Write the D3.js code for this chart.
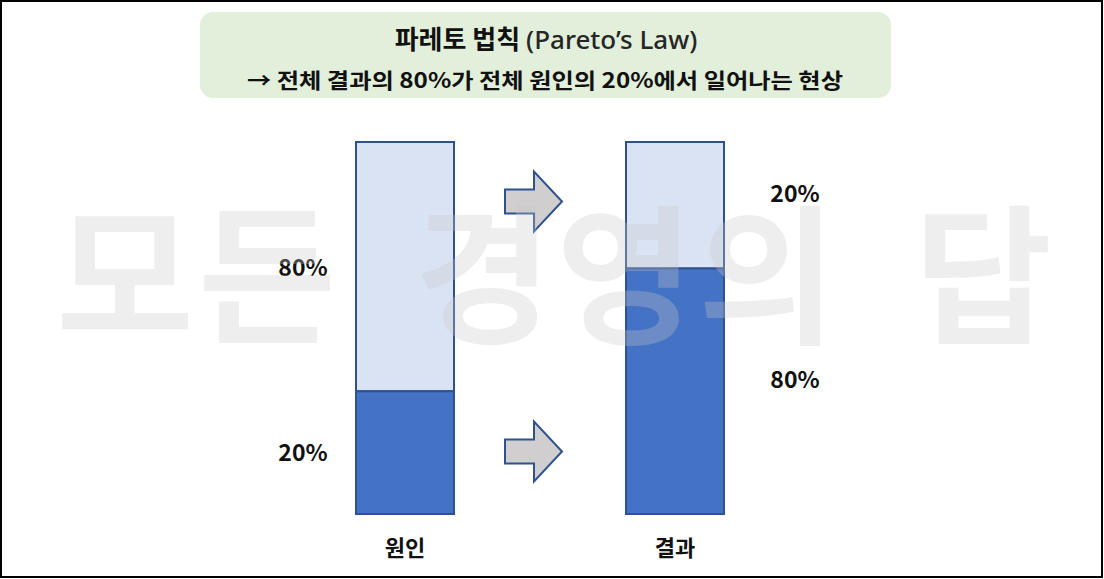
<!DOCTYPE html>
<html><head><meta charset="utf-8">
<script src="https://cdn.jsdelivr.net/npm/d3@7/dist/d3.min.js"></script>
<style>
html,body{margin:0;padding:0;background:#fff;}
svg{display:block;}
text{font-family:"Noto Sans CJK KR","Noto Sans",sans-serif;}
</style></head>
<body>
<script>
// ---- data ----
const categories = ["원인", "결과"];
const lowerShare = [33, 66];          // dark (bottom) segment height, % of bar as drawn
const upperShare = [67, 34];          // light (top) segment height
const upperLabels = ["80%", "20%"];   // labels printed for the top segments
const lowerLabels = ["20%", "80%"];   // labels printed for the bottom segments
const titleMain = "파레토 법칙";
const titleLatin = "(Pareto’s Law)";
const subtitle = "→ 전체 결과의 80%가 전체 원인의 20%에서 일어나는 현상";
const watermark = "모든 경영의 답";

const W = 1104, H = 579;
const svg = d3.select("body").append("svg").attr("width", W).attr("height", H);

svg.append("rect").attr("x",0).attr("y",0).attr("width",W).attr("height",H).attr("fill","#fff");

// title box
svg.append("rect").attr("x",200).attr("y",12).attr("width",691).attr("height",86)
  .attr("rx",13).attr("fill","#e2efda");
const t1 = svg.append("text").attr("x",546).attr("y",49).attr("text-anchor","middle")
  .attr("font-size",26).attr("fill","#111");
t1.append("tspan").attr("font-weight",700).text(titleMain + " ");
t1.append("tspan").attr("font-weight",500).attr("fill","#262626")
  .attr("font-family","'Noto Sans','Noto Sans CJK KR',sans-serif").text(titleLatin);
svg.append("text").attr("x",545).attr("y",88).attr("text-anchor","middle")
  .attr("font-size",21).attr("font-weight",700).attr("fill","#111")
  .attr("textLength",596).attr("lengthAdjust","spacingAndGlyphs").text(subtitle);

// scales
const x = d3.scaleBand().domain(categories).range([356, 724]).paddingInner(0.637).paddingOuter(0);
const y = d3.scaleLinear().domain([0, 100]).range([514, 142]);

const rows = categories.map((c, i) => ({c, lo: lowerShare[i], up: upperShare[i]}));
const g = svg.append("g");
const stroke = "#2f528f";

g.selectAll("rect.up").data(rows).join("rect").attr("class","up")
  .attr("x", d => x(d.c)).attr("width", x.bandwidth())
  .attr("y", d => y(d.lo + d.up)).attr("height", d => y(d.lo) - y(d.lo + d.up))
  .attr("fill","#dae3f3").attr("stroke",stroke).attr("stroke-width",2);
g.selectAll("rect.lo").data(rows).join("rect").attr("class","lo")
  .attr("x", d => x(d.c)).attr("width", x.bandwidth())
  .attr("y", d => y(d.lo)).attr("height", d => y(0) - y(d.lo))
  .attr("fill","#4472c4").attr("stroke",stroke).attr("stroke-width",2);

g.selectAll("text.cat").data(categories).join("text").attr("class","cat")
  .attr("x", d => x(d) + x.bandwidth()/2).attr("y", 556).attr("text-anchor","middle")
  .attr("font-size",22).attr("font-weight",700).attr("fill","#111").text(d => d);

const labelLevels = { up: [66, 86], lo: [16.5, 36] };
const labelX = [303, 795];
rows.forEach((d, i) => {
  g.append("text").attr("x", labelX[i]).attr("y", y(labelLevels.up[i]) + 8)
    .attr("text-anchor","middle").attr("font-size",23).attr("font-weight",700)
    .attr("fill","#111").text(upperLabels[i]);
  g.append("text").attr("x", labelX[i]).attr("y", y(labelLevels.lo[i]) + 8)
    .attr("text-anchor","middle").attr("font-size",23).attr("font-weight",700)
    .attr("fill","#111").text(lowerLabels[i]);
});

const arrowLevels = [84, 16.8];
const ax0 = x(categories[0]) + x.bandwidth() + 51, ax1 = ax0 + 29, ax2 = ax0 + 57;
arrowLevels.forEach(v => {
  const cy = y(v);
  const pts = [[ax0, cy-12],[ax1, cy-12],[ax1, cy-30],[ax2, cy],[ax1, cy+30],[ax1, cy+12],[ax0, cy+12]];
  g.append("path").attr("d", d3.line()(pts) + "Z")
    .attr("fill","#d0cece").attr("stroke",stroke).attr("stroke-width",2).attr("stroke-linejoin","miter");
});

// watermark overlay
svg.append("text").attr("x", 556).attr("y", 332).attr("text-anchor","middle")
  .attr("font-size",150).attr("font-weight",700).attr("fill","#c8c8c8").attr("fill-opacity",0.31)
  .style("word-spacing","36px").style("letter-spacing","4px")
  .text(watermark);

svg.append("rect").attr("x",1).attr("y",1).attr("width",W-3).attr("height",H-3)
  .attr("fill","none").attr("stroke","#000").attr("stroke-width",2);
</script>
</body></html>
